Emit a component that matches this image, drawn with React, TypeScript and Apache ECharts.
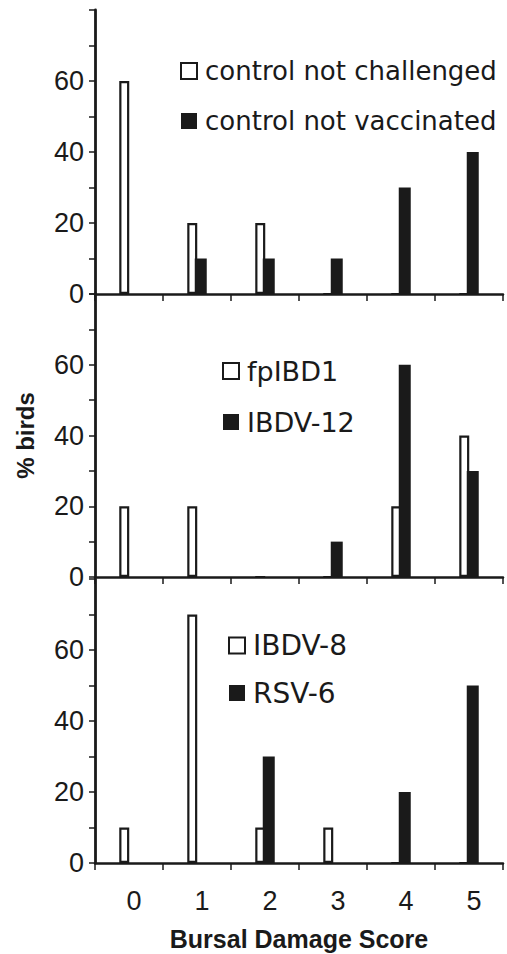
import React, { useEffect, useRef } from "react";
import * as echarts from "echarts";

const scores = ["0", "1", "2", "3", "4", "5"];
const controlNotChallenged = [60, 20, 20, 0, 0, 0];
const controlNotVaccinated = [0, 10, 10, 10, 30, 40];
const fpIBD1 = [20, 20, 0, 0, 20, 40];
const ibdv12 = [0, 0, 0, 10, 60, 30];
const ibdv8 = [10, 70, 10, 10, 0, 0];
const rsv6 = [0, 0, 30, 0, 20, 50];
const yTickLabels = [0, 20, 40, 60];

const INK = "#1a1a1a";

export default function App() {
  const ref = useRef<HTMLDivElement>(null);
  useEffect(() => {
    if (!ref.current) return;
    const chart = echarts.init(ref.current, null, { renderer: "svg" });

    const grids = [
      { left: 95, width: 408, top: 10, height: 284 },
      { left: 95, width: 408, top: 294, height: 283 },
      { left: 95, width: 408, top: 579, height: 284 },
    ];

    const xAxis = grids.map((_, i) => ({
      type: "category",
      gridIndex: i,
      data: scores,
      boundaryGap: true,
      axisLine: { lineStyle: { color: INK, width: 2.5 } },
      axisTick: { show: true, inside: false, length: 7, lineStyle: { color: INK, width: 1.5 } },
      axisLabel: {
        show: i === 2,
        fontFamily: "Liberation Sans",
        fontSize: 27,
        color: INK,
        margin: 24,
        padding: [0, 0, 0, 10],
      },
      name: i === 2 ? "Bursal Damage Score" : "",
      nameLocation: "middle",
      nameGap: 63,
      nameTextStyle: {
        fontFamily: "Liberation Sans",
        fontWeight: "bold",
        fontSize: 25,
        color: INK,
      },
      splitLine: { show: false },
      z: 5,
    }));

    const yAxis = grids.map((_, i) => ({
      type: "value",
      gridIndex: i,
      min: 0,
      max: 80,
      interval: 10,
      axisLine: { show: true, lineStyle: { color: INK, width: 2.8 } },
      axisTick: { show: true, inside: false, length: 6, lineStyle: { color: INK, width: 1.5 } },
      axisLabel: {
        fontFamily: "Liberation Sans",
        fontSize: 27,
        color: INK,
        margin: 11,
        formatter: (v: number) => (yTickLabels.includes(v) ? String(v) : ""),
      },
      splitLine: { show: false },
      name: i === 1 ? "% birds" : "",
      nameLocation: "middle",
      nameRotate: 90,
      nameGap: 58,
      nameTextStyle: {
        fontFamily: "Liberation Sans",
        fontWeight: "bold",
        fontSize: 24,
        color: INK,
      },
      z: 5,
    }));

    const whiteStyle = { color: "#ffffff", borderColor: INK, borderWidth: 2.2 };
    const blackStyle = { color: INK };

    const mk = (name: string, data: number[], idx: number, white: boolean) => ({
      type: "bar",
      name,
      data,
      xAxisIndex: idx,
      yAxisIndex: idx,
      barWidth: white ? 10 : 12,
      barGap: "-25%",
      itemStyle: white ? whiteStyle : blackStyle,
      z: white ? 2 : 3,
    });

    const legendBase = {
      orient: "vertical",
      itemWidth: 16,
      itemHeight: 16,
      icon: "rect",
      padding: 0,
      selectedMode: false,
      textStyle: { fontFamily: "DejaVu Sans", color: INK, padding: [0, 0, 0, 3] },
    };

    chart.setOption({
      animation: false,
      backgroundColor: "#ffffff",
      grid: grids,
      xAxis,
      yAxis,
      legend: [
        {
          ...legendBase,
          data: ["control not challenged", "control not vaccinated"],
          left: 180,
          top: 58,
          itemGap: 24,
          textStyle: { ...legendBase.textStyle, fontSize: 26 },
        },
        {
          ...legendBase,
          data: ["fpIBD1", "IBDV-12"],
          left: 222,
          top: 357.5,
          itemGap: 24,
          textStyle: { ...legendBase.textStyle, fontSize: 27 },
        },
        {
          ...legendBase,
          data: ["IBDV-8", "RSV-6"],
          left: 228,
          top: 631.5,
          itemGap: 19.5,
          textStyle: { ...legendBase.textStyle, fontSize: 28 },
        },
      ],
      series: [
        mk("control not challenged", controlNotChallenged, 0, true),
        mk("control not vaccinated", controlNotVaccinated, 0, false),
        mk("fpIBD1", fpIBD1, 1, true),
        mk("IBDV-12", ibdv12, 1, false),
        mk("IBDV-8", ibdv8, 2, true),
        mk("RSV-6", rsv6, 2, false),
      ],
    });
    return () => chart.dispose();
  }, []);
  return (
    <div
      ref={ref}
      style={{ position: "absolute", left: 0, top: 0, width: 507, height: 954, background: "#fff" }}
    />
  );
}
